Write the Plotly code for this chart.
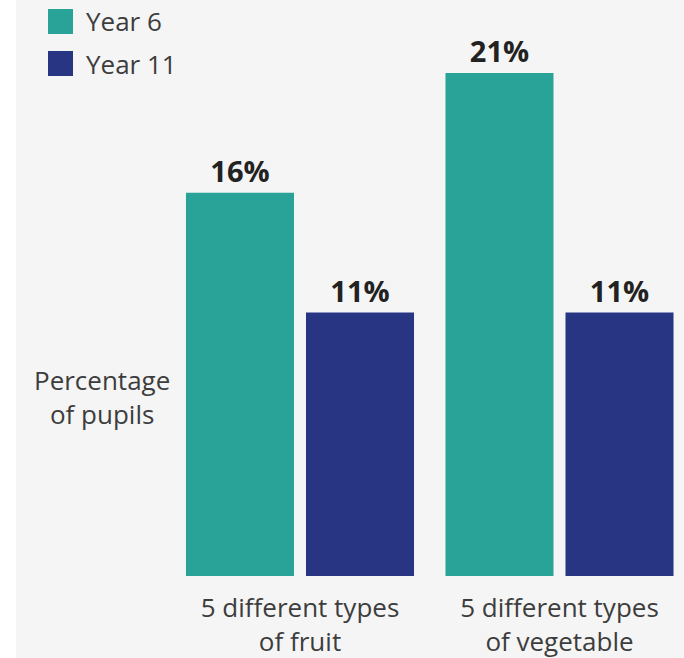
import plotly.graph_objects as go

categories = ["5 different types<br>of fruit", "5 different types<br>of vegetable"]
series_names = ["Year 6", "Year 11"]
year6 = [16, 21]
year11 = [11, 11]
colors = ["#29a398", "#283583"]

W, H = 684, 658
plot_bottom = 576
px_per_unit = 23.95
cat_spacing = 259.5
cat0_x = 300.0
txt_col = "#3d3d3d"

fig = go.Figure()
for name, vals, col in zip(series_names, [year6, year11], colors):
    fig.add_trace(go.Bar(
        x=categories, y=vals, name=name, marker=dict(color=col, line=dict(width=0)),
        text=[f"{v}%" for v in vals], textposition="outside",
        texttemplate="<b>%{text}</b>",
        textfont=dict(family="Open Sans", size=29, color="#222222"),
        cliponaxis=False, showlegend=False,
    ))

x0 = -cat0_x / cat_spacing
x1 = x0 + W / cat_spacing

shapes = [dict(type="rect", xref="paper", yref="paper", x0=16 / W, x1=1.0,
               y0=-(H - plot_bottom) / plot_bottom, y1=1.0,
               fillcolor="#f5f5f5", line=dict(width=0), layer="below")]
annotations = []
leg_y = [9, 51]
for i, (name, col) in enumerate(zip(series_names, colors)):
    top = leg_y[i]
    shapes.append(dict(type="rect", xref="paper", yref="paper",
                       x0=48 / W, x1=73 / W,
                       y0=(plot_bottom - top - 25) / plot_bottom,
                       y1=(plot_bottom - top) / plot_bottom,
                       fillcolor=col, line=dict(width=0)))
    annotations.append(dict(text=name, xref="paper", yref="paper",
                            x=84 / W, y=(plot_bottom - top - 12.5) / plot_bottom,
                            xanchor="left", yanchor="middle", showarrow=False,
                            font=dict(family="Open Sans", size=26, color=txt_col)))
annotations.append(dict(text="Percentage<br>of pupils", xref="paper", yref="paper",
                        x=102 / W, y=(plot_bottom - 397) / plot_bottom,
                        xanchor="center", yanchor="middle", showarrow=False, align="center",
                        font=dict(family="Open Sans", size=26, color=txt_col)))

fig.update_layout(
    width=W, height=H, margin=dict(l=0, r=0, t=0, b=H - plot_bottom, autoexpand=False),
    paper_bgcolor="white", plot_bgcolor="rgba(0,0,0,0)",
    barmode="group", bargap=0.075, bargroupgap=0.1,
    shapes=shapes, annotations=annotations,
    font=dict(family="Open Sans", color=txt_col),
    xaxis=dict(range=[x0, x1], showgrid=False, zeroline=False, showline=False,
               ticks="", ticklabelstandoff=14, automargin=False,
               tickfont=dict(family="Open Sans", size=26, color=txt_col)),
    yaxis=dict(range=[0, plot_bottom / px_per_unit], showgrid=False, zeroline=False,
               showline=False, showticklabels=False, ticks="", automargin=False),
)
fig.write_html("out.html")
